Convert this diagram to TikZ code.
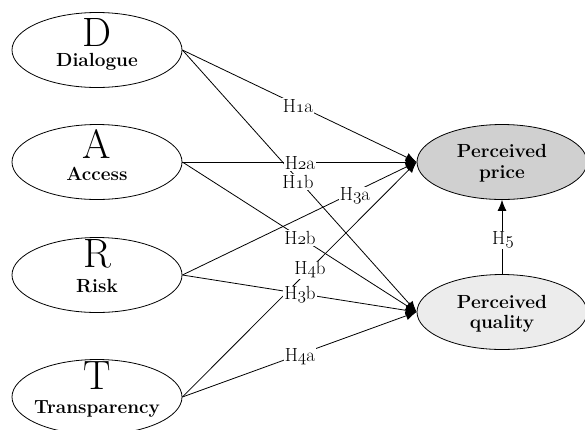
\documentclass[tikz,border=0pt]{standalone}
\usepackage{fontspec}
\usetikzlibrary{shapes.geometric,arrows.meta}
\newcommand\osn[1]{{\usefont{OML}{cmm}{m}{it}#1}}
\definecolor{pricefill}{RGB}{208,208,208}
\definecolor{qualfill}{RGB}{236,236,236}
\begin{document}
\begin{tikzpicture}[x=1pt,y=-1pt,
 ell/.style={draw,ellipse,minimum width=170pt,minimum height=75pt,inner sep=0pt,line width=0.8pt},
 arr/.style={line width=0.8pt,-{Latex[length=11pt,width=9pt]}},
 lab/.style={fill=white,inner sep=1pt,font=\fontsize{19}{20}\selectfont},
 big/.style={anchor=base,inner sep=0pt,font=\fontsize{41}{41}\selectfont},
 nm/.style={anchor=base,inner sep=0pt,font=\bfseries\fontsize{19}{20}\selectfont}]
\useasboundingbox (0,0) rectangle (585,429);
% ellipses
\node[ell] (d) at (97,50) {};
\node[ell] (a) at (97,162) {};
\node[ell] (r) at (97,275) {};
\node[ell] (t) at (97,397) {};
\node[ell,fill=pricefill] (pp) at (502,162) {};
\node[ell,fill=qualfill] (pq) at (502,312) {};
% texts
\node[big] (dl) at (97,46) {D};
\node[nm] (dn) at (97,66) {Dialogue};
\node[big] (al) at (97,158) {A};
\node[nm] (an) at (97,180) {Access};
\node[big] (rl) at (97,267) {R};
\node[nm] (rn) at (97,292) {Risk};
\node[big] (tl) at (97,389) {T};
\node[nm] (tn) at (97,413) {Transparency};
\node[nm] (pp1) at (502,157) {Perceived};
\node[nm] (pp2) at (502,178) {price};
\node[nm] (pq1) at (502,308) {Perceived};
\node[nm] (pq2) at (502,328) {quality};
% connectors
\draw[arr] (d.east) -- (pp.west);
\draw[arr] (d.east) -- (pq.west);
\draw[arr] (a.east) -- (pp.west);
\draw[arr] (a.east) -- (pq.west);
\draw[arr] (r.east) -- (pp.west);
\draw[arr] (r.east) -- (pq.west);
\draw[arr] (t.east) -- (pp.west);
\draw[arr] (t.east) -- (pq.west);
\draw[arr] (pq.north) -- (pp.south);
% labels
\node[lab] (h1a) at (298,106) {H\osn{1}a};
\node[lab] (h2a) at (300,163) {H\osn{2}a};
\node[lab] (h1b) at (298,182) {H\osn{1}b};
\node[lab] (h3a) at (355,196) {H\osn{3}a};
\node[lab] (h2b) at (300,238) {H\osn{2}b};
\node[lab] (h4b) at (310,270) {H\osn{4}b};
\node[lab] (h3b) at (300,295) {H\osn{3}b};
\node[lab] (h4a) at (300,357) {H\osn{4}a};
\node[lab] (h5) at (503,240) {H\osn{5}};
\end{tikzpicture}
\end{document}
